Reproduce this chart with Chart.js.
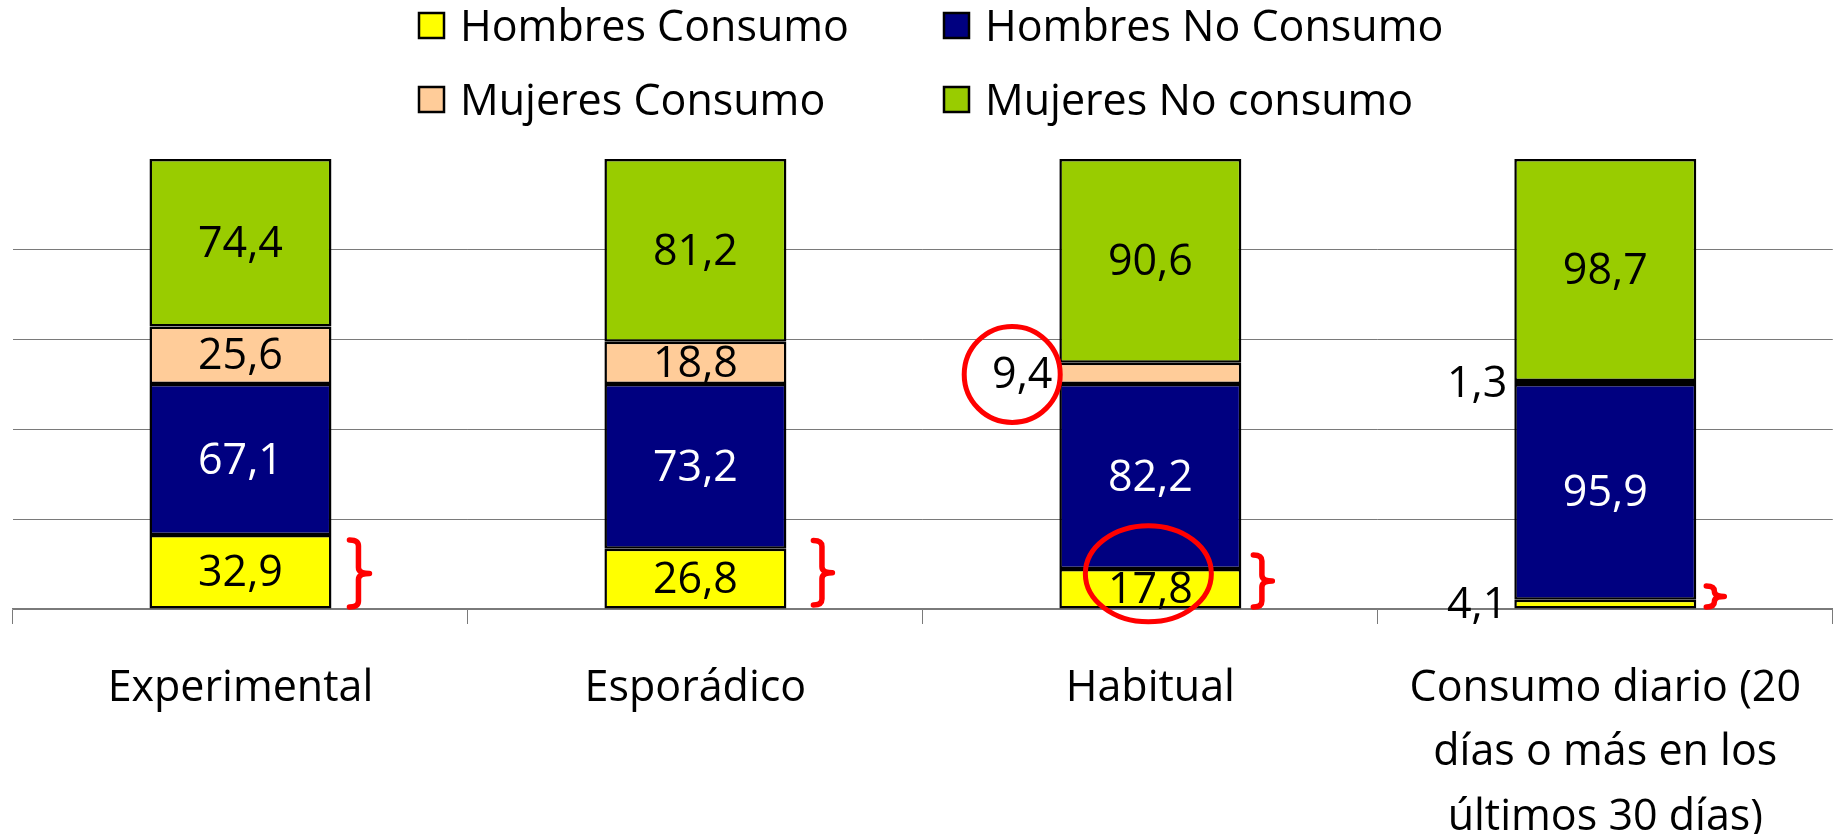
<!DOCTYPE html>
<html>
<head>
<meta charset="utf-8">
<script src="https://cdn.jsdelivr.net/npm/chart.js@4.4.1/dist/chart.umd.min.js"></script>
<style>
  html, body { margin: 0; padding: 0; background: #ffffff; }
  #wrap { width: 1833px; height: 834px; }
</style>
</head>
<body>
<div id="wrap"><canvas id="c" width="1833" height="834"></canvas></div>
<script>
// ---- data ----
const categories = ['Experimental', 'Esporádico', 'Habitual', ['Consumo diario (20', 'días o más en los', 'últimos 30 días)']];
const seriesNames = ['Hombres Consumo', 'Hombres No Consumo', 'Mujeres Consumo', 'Mujeres No consumo'];
const hombresConsumo   = [32.9, 26.8, 17.8, 4.1];
const hombresNoConsumo = [67.1, 73.2, 82.2, 95.9];
const mujeresConsumo   = [25.6, 18.8, 9.4, 1.3];
const mujeresNoConsumo = [74.4, 81.2, 90.6, 98.7];
const yTicks = [0, 40, 80, 120, 160, 200];

// ---- styles ----
const colors = ['#FFFF00', '#000080', '#FFCC99', '#99CC00'];
const labelColors = ['#000000', '#FFFFFF', '#000000', '#000000'];
const FONT = '"Open Sans", "DejaVu Sans", sans-serif';
const FS = 43;

// red hand-made annotations (category index, offsets in px)
const braceMarks = [
  { cat: 0, topVal: 30.7, botVal: 0.9, dx: 18, w: 20 },
  { cat: 1, topVal: 30.5, botVal: 1.8, dx: 27, w: 19 },
  { cat: 2, topVal: 24.0, botVal: 0.9, dx: 12, w: 19 },
  { cat: 3, topVal: 10.2, botVal: 0.9, dx: 10, w: 18 }
];
const ringMarks = [
  { cat: 2, ds: 2, dx: -10, dy: 1, rx: 48, ry: 48 },
  { cat: 2, ds: 0, dx: -2, dy: -15, rx: 63, ry: 48 }
];

const fmt = v => v.toFixed(1).replace('.', ',');

function labelPos(chart, di, i) {
  const el = chart.getDatasetMeta(di).data[i];
  const v = chart.data.datasets[di].data[i];
  const yc = (el.y + el.base) / 2;
  if (v < 10) {
    const left = el.x - el.width / 2;
    return { x: left - 7, y: yc, align: 'right', v };
  }
  return { x: el.x, y: yc, align: 'center', v };
}

const overlayPlugin = {
  id: 'overlay',
  afterDatasetsDraw(chart) {
    const ctx = chart.ctx;
    ctx.save();
    ctx.font = FS + 'px ' + FONT;
    ctx.textBaseline = 'middle';
    chart.data.datasets.forEach((ds, di) => {
      ds.data.forEach((v, i) => {
        const p = labelPos(chart, di, i);
        ctx.textAlign = p.align;
        ctx.fillStyle = p.align === 'center' ? labelColors[di] : '#000000';
        ctx.fillText(fmt(v), p.x, p.y + 2);
      });
    });
    ctx.restore();
  },
  afterDraw(chart) {
    const ctx = chart.ctx;
    const ys = chart.scales.y;
    // legend (2 x 2)
    ctx.save();
    const cols = [418, 943];
    const rows = [12, 86];
    const box = 27;
    ctx.font = FS + 'px ' + FONT;
    ctx.textBaseline = 'middle';
    ctx.textAlign = 'left';
    chart.data.datasets.forEach((ds, di) => {
      const bx = cols[di % 2], by = rows[Math.floor(di / 2)];
      ctx.fillStyle = ds.backgroundColor;
      ctx.fillRect(bx, by, box, box);
      ctx.lineWidth = 2.5;
      ctx.strokeStyle = '#000000';
      ctx.strokeRect(bx + 1, by + 1, box - 2, box - 2);
      ctx.fillStyle = '#000000';
      ctx.fillText(ds.label, bx + 42, by + box / 2 + 3);
    });
    ctx.restore();

    // red braces
    ctx.save();
    ctx.strokeStyle = '#FF0000';
    ctx.lineWidth = 5.5;
    ctx.lineCap = 'round';
    ctx.lineJoin = 'round';
    braceMarks.forEach(b => {
      const el = chart.getDatasetMeta(0).data[b.cat];
      const x0 = el.x + el.width / 2 + b.dx;
      const xm = x0 + b.w * 0.45;
      const xp = x0 + b.w;
      const y0 = ys.getPixelForValue(b.topVal);
      const y1 = ys.getPixelForValue(b.botVal);
      const ym = (y0 + y1) / 2;
      const r = Math.min(6, (y1 - y0) / 4);
      ctx.beginPath();
      ctx.moveTo(x0, y0);
      ctx.quadraticCurveTo(xm, y0, xm, y0 + r);
      ctx.lineTo(xm, ym - r);
      ctx.quadraticCurveTo(xm, ym, xp, ym);
      ctx.quadraticCurveTo(xm, ym, xm, ym + r);
      ctx.lineTo(xm, y1 - r);
      ctx.quadraticCurveTo(xm, y1, x0, y1);
      ctx.stroke();
    });
    // red rings
    ctx.lineWidth = 5;
    ringMarks.forEach(m => {
      const p = labelPos(chart, m.ds, m.cat);
      let cx = p.x;
      if (p.align === 'right') {
        ctx.font = FS + 'px ' + FONT;
        cx = p.x - ctx.measureText(fmt(p.v)).width / 2;
      }
      ctx.beginPath();
      ctx.ellipse(cx + m.dx, p.y + m.dy, m.rx, m.ry, 0, 0, Math.PI * 2);
      ctx.stroke();
    });
    ctx.restore();
  }
};

const seriesData = [hombresConsumo, hombresNoConsumo, mujeresConsumo, mujeresNoConsumo];

new Chart(document.getElementById('c'), {
  type: 'bar',
  data: {
    labels: categories,
    datasets: seriesData.map((d, i) => ({
      label: seriesNames[i],
      data: d,
      backgroundColor: colors[i],
      borderColor: '#000000',
      borderWidth: 2.5,
      borderSkipped: false,
      barPercentage: 0.4,
      categoryPercentage: 1.0
    }))
  },
  options: {
    responsive: false,
    devicePixelRatio: 1,
    animation: false,
    layout: { padding: { top: 159, left: 13, right: 0, bottom: 0 } },
    plugins: {
      legend: { display: false },
      tooltip: { enabled: false },
      title: { display: false }
    },
    scales: {
      x: {
        stacked: true,
        afterFit: s => { s.height = 225; },
        grid: {
          display: true,
          offset: true,
          drawOnChartArea: false,
          drawTicks: true,
          tickLength: 15,
          color: '#7a7a7a',
          lineWidth: 1
        },
        border: { display: true, color: '#7a7a7a', width: 1.5 },
        ticks: {
          color: '#000000',
          font: { family: FONT, size: FS, lineHeight: 1.5 },
          padding: 32,
          maxRotation: 0,
          autoSkip: false
        }
      },
      y: {
        stacked: true,
        min: 0,
        max: 200,
        afterFit: s => { s.width = 0; },
        afterBuildTicks: s => { s.ticks = yTicks.map(v => ({ value: v })); },
        ticks: { display: false },
        grid: {
          drawTicks: false,
          color: c => (c.tick && c.tick.value === 200) ? 'rgba(0,0,0,0)' : '#7a7a7a',
          lineWidth: 1
        },
        border: { display: false }
      }
    }
  },
  plugins: [overlayPlugin]
});
</script>
</body>
</html>
